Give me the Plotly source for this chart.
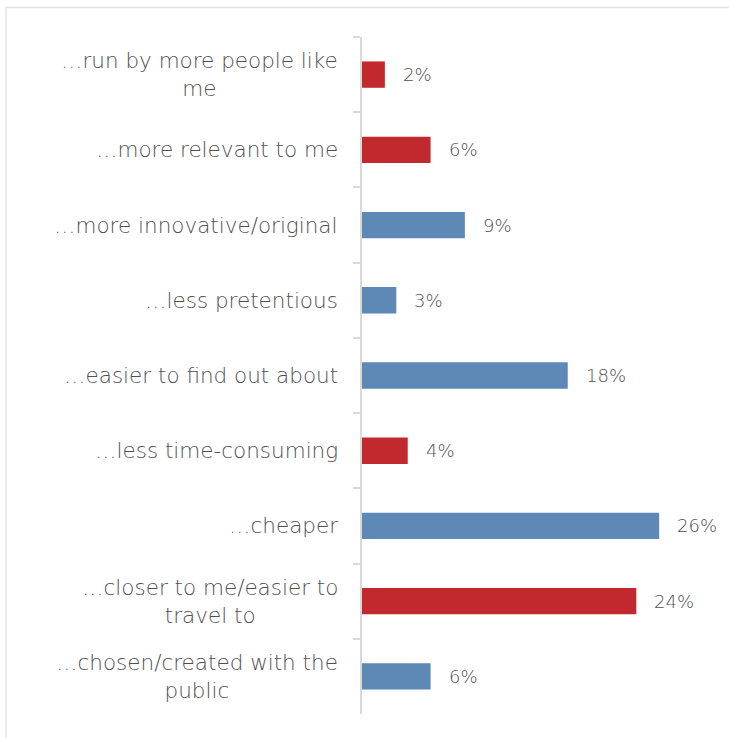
import plotly.graph_objects as go

# Survey responses: "Would attend more if the arts were..."
categories = [
    "…run by more people like<br>me",
    "…more relevant to me",
    "…more innovative/original",
    "…less pretentious",
    "…easier to find out about",
    "…less time-consuming",
    "…cheaper",
    "…closer to me/easier to<br>travel to",
    "…chosen/created with the<br>public",
]
values = [2, 6, 9, 3, 18, 4, 26, 24, 6]
highlight = [True, True, False, False, False, True, False, True, False]

RED = "#C1292E"
BLUE = "#5E88B6"
TEXT = "#4F4F4F"
GRID = "#D9D9D9"
FONT = "DejaVu Sans"

W, H = 729, 738
L, R, T, B = 362, 0, 37, 24
px_per_unit = 11.43
plot_w = W - L - R
x_max = plot_w / px_per_unit

colors = [RED if h else BLUE for h in highlight]

fig = go.Figure(
    go.Bar(
        x=values,
        y=categories,
        orientation="h",
        marker=dict(color=colors, line=dict(width=0)),
        width=0.35,
        hoverinfo="x+y",
    )
)

# Value labels placed a little to the right of each bar end
for cat, v in zip(categories, values):
    fig.add_annotation(
        x=v, xref="x", y=cat, yref="y",
        text=f"{v}%", showarrow=False,
        xanchor="left", yanchor="middle", xshift=16,
        font=dict(family=FONT, size=18, color=TEXT, weight=300),
    )

# Category labels, centred line by line and right-aligned against the axis
for cat in categories:
    fig.add_annotation(
        x=0, xref="paper", y=cat, yref="y",
        text=cat, showarrow=False,
        xanchor="right", yanchor="middle", align="center",
        xshift=-22,
        font=dict(family=FONT, size=21.5, color=TEXT, weight=300),
    )

# Outer chart frame
fig.add_shape(
    type="rect", xref="paper", yref="paper",
    x0=(6 - L) / plot_w, x1=(W + 20 - L) / plot_w,
    y0=-(B + 20) / (H - T - B), y1=1 + (T - 7.5) / (H - T - B),
    line=dict(color="#E3E3E3", width=1.5), layer="below",
)

fig.update_layout(
    width=W, height=H,
    margin=dict(l=L, r=R, t=T, b=B, pad=0),
    paper_bgcolor="white", plot_bgcolor="white",
    showlegend=False,
    xaxis=dict(range=[0, x_max], visible=False, fixedrange=True),
    yaxis=dict(
        autorange="reversed",
        showticklabels=False,
        showline=True, linecolor=GRID, linewidth=1.5,
        ticks="outside", tickson="boundaries", ticklen=7,
        tickcolor=GRID, tickwidth=1.5,
        showgrid=False, zeroline=False,
    ),
)

fig.write_html("out.html")
